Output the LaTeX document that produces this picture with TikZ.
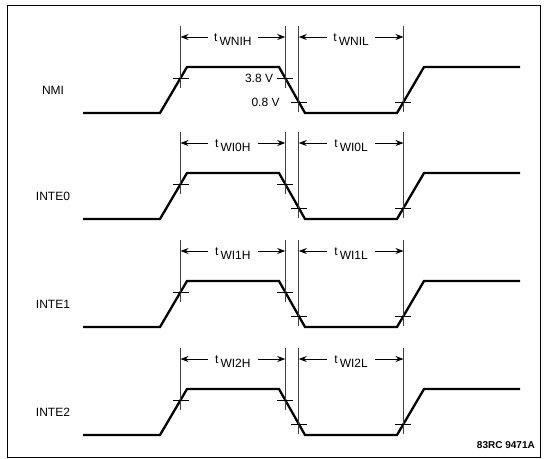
\documentclass[tikz,border=0pt]{standalone}
\usepackage{fontspec}
\setmainfont{Liberation Sans}
\usetikzlibrary{arrows.meta,calc}
\begin{document}
\begin{tikzpicture}[x=1pt,y=-1pt,
  signal/.style={line width=2.3pt, line join=miter},
  guide/.style={line width=0.6pt, black!75},
  tickmark/.style={line width=0.7pt},
  dimarrow/.style={-{Stealth[length=8pt,width=6pt]}, line width=0.8pt},
  sublbl/.style={font=\fontsize{12}{12}\selectfont, inner xsep=6pt, inner ysep=0pt, text height=8.5pt, text depth=0pt},
  siglbl/.style={font=\fontsize{12}{14}\selectfont},
  vlbl/.style={font=\fontsize{12}{14}\selectfont, anchor=east, inner sep=1pt},
  footlbl/.style={font=\bfseries\fontsize{10}{12}\selectfont, anchor=east, inner sep=0pt}]
\useasboundingbox (0,0) rectangle (545,458);
\draw[line width=0.8pt] (7,5) rectangle (540,457);

\foreach \H/\nm/\s [count=\i] in {67/NMI/WNI, 173/INTE0/WI0, 281/INTE1/WI1, 389/INTE2/WI2} {
  \pgfmathsetmacro\L{\H+46}
  \pgfmathsetmacro\T{\H-41}
  \pgfmathsetmacro\A{\H-30}
  \pgfmathsetmacro\M{\H+23}
  \coordinate (s\i-a) at (83,\L);
  \coordinate (s\i-b) at (160,\L);
  \coordinate (s\i-c) at (187,\H);
  \coordinate (s\i-d) at (279,\H);
  \coordinate (s\i-e) at (305,\L);
  \coordinate (s\i-f) at (397,\L);
  \coordinate (s\i-g) at (424,\H);
  \coordinate (s\i-h) at (520,\H);
  \coordinate (top\i) at (0,\T);
  \coordinate (ay\i) at (0,\A);
  \draw[signal] (s\i-a) -- (s\i-b) -- (s\i-c) -- (s\i-d) -- (s\i-e) -- (s\i-f) -- (s\i-g) -- (s\i-h);
  \node[siglbl] (n\i) at (53,\M) {\nm};
  \coordinate (x\i-1) at ($(s\i-c)!0.24!(s\i-b)$);
  \coordinate (x\i-2) at ($(s\i-d)!0.24!(s\i-e)$);
  \coordinate (x\i-3) at ($(s\i-e)!0.24!(s\i-d)$);
  \coordinate (x\i-4) at ($(s\i-f)!0.24!(s\i-g)$);
  \foreach \k in {1,2,3,4} {
    \draw[guide] ($(x\i-\k)+(0,10)$) -- (x\i-\k |- top\i);
    \draw[tickmark] ($(x\i-\k)+(-8,0)$) -- ($(x\i-\k)+(8,0)$);
  }
  \coordinate (e\i-1) at (x\i-1 |- ay\i);
  \coordinate (e\i-2) at (x\i-2 |- ay\i);
  \coordinate (e\i-3) at (x\i-3 |- ay\i);
  \coordinate (e\i-4) at (x\i-4 |- ay\i);
  \coordinate (mh\i) at ($(e\i-1)!0.5!(e\i-2)$);
  \coordinate (ml\i) at ($(e\i-3)!0.5!(e\i-4)$);
  % dimension arrows from the label edges to the guide lines
  \draw[dimarrow] ($(mh\i)+(-25,0)$) -- (e\i-1);
  \draw[dimarrow] ($(mh\i)+(25,0)$) -- (e\i-2);
  \draw[dimarrow] ($(ml\i)+(-24,0)$) -- (e\i-3);
  \draw[dimarrow] ($(ml\i)+(24,0)$) -- (e\i-4);
  \node[sublbl] (h\i) at (mh\i) {t\,\raisebox{-4.5pt}{\s H}};
  \node[sublbl] (l\i) at (ml\i) {t\,\raisebox{-4.5pt}{\s L}};
}
\node[vlbl] (v38) at ($(x1-2)+(-11,0)$) {3.8 V};
\node[vlbl] (v08) at ($(x1-3)+(-18,0)$) {0.8 V};
\node[footlbl] (fig) at (535,445) {83RC 9471A};
\end{tikzpicture}
\end{document}
